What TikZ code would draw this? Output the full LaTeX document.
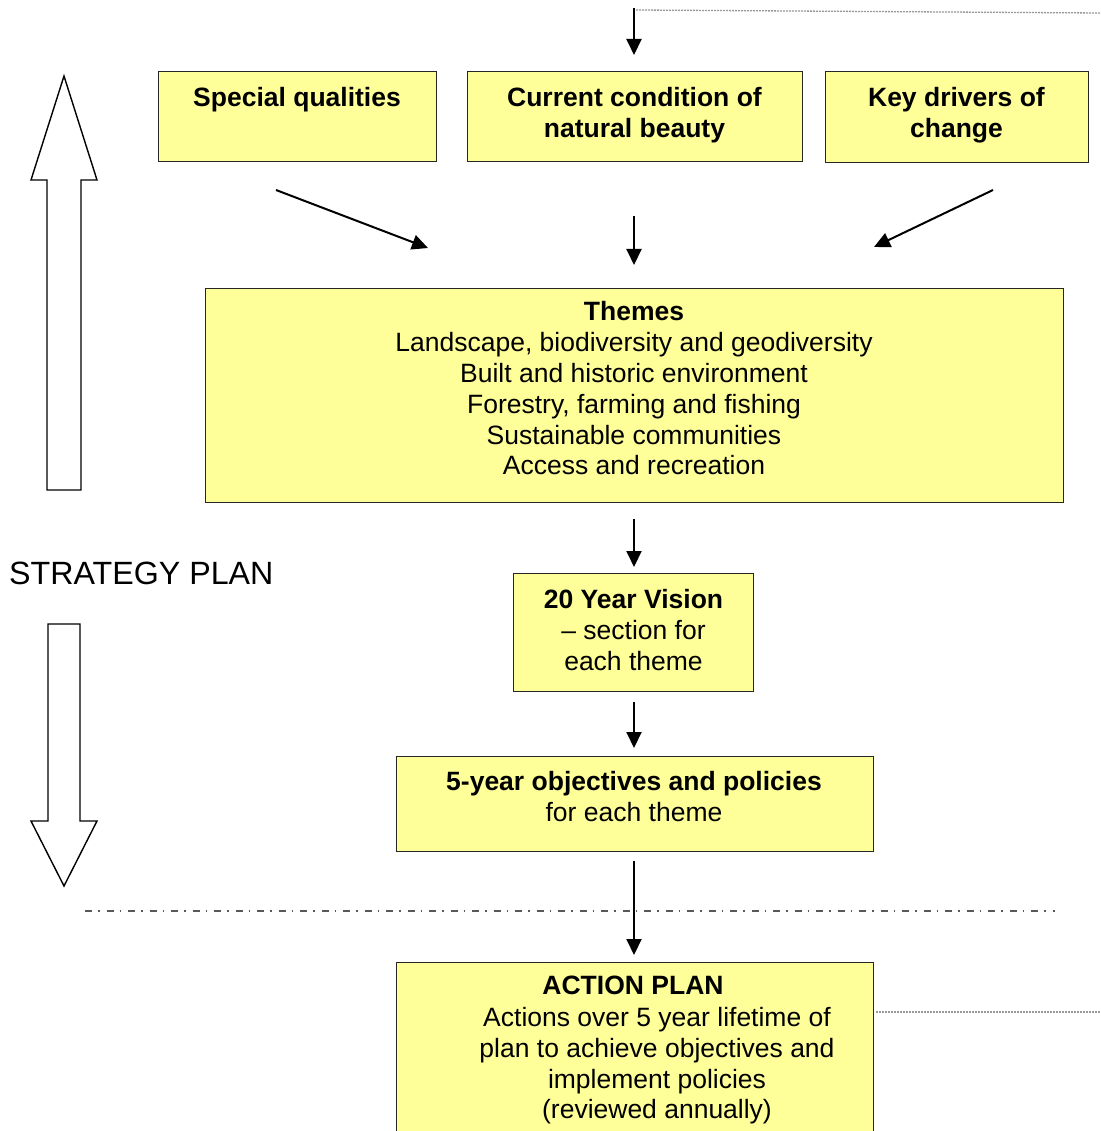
\documentclass[tikz,border=0pt]{standalone}
\usepackage{fontspec}
\setmainfont{Liberation Sans}
\usetikzlibrary{arrows.meta,calc}
\definecolor{boxfill}{HTML}{FFFF99}
\definecolor{dotgray}{HTML}{999999}
\begin{document}
\begin{tikzpicture}[x=1pt,y=-1pt,
  box/.style={draw=black!85, line width=1.3pt, fill=boxfill, inner sep=0pt, rectangle, anchor=north west},
  txt/.style={font=\fontsize{26.5}{30.8}\selectfont, align=center, inner sep=0pt, anchor=north},
  flow/.style={line width=2pt, -{Triangle[length=16pt,width=15pt]}},
  hollow/.style={draw=black, line width=1.4pt, fill=white, line join=miter},
  dotline/.style={draw=dotgray, line width=1.3pt, dash pattern=on 2pt off 1pt},
  dashdotline/.style={draw=black!65, line width=1.5pt, dash pattern=on 7pt off 6pt on 1.5pt off 7pt}]
\clip (0,0) rectangle (1100,1131);
\fill[white] (0,0) rectangle (1100,1131);

% boxes
\node[box, minimum width=278pt, minimum height=90pt] (sq) at (158,71) {};
\node[box, minimum width=335pt, minimum height=90pt] (cc) at (467,71) {};
\node[box, minimum width=263pt, minimum height=91pt] (kd) at (825,71) {};
\node[box, minimum width=858pt, minimum height=214pt] (th) at (205,288) {};
\node[box, minimum width=240pt, minimum height=118pt] (vi) at (513,573) {};
\node[box, minimum width=477pt, minimum height=95pt] (ob) at (396,756) {};
\node[box, minimum width=477pt, minimum height=200pt] (ap) at (396,962) {};

% texts
\node[txt] (sqt) at (297,87) {\textbf{Special qualities}};
\node[txt] (cct) at (634.5,87) {\textbf{Current condition of}\\\textbf{natural beauty}};
\node[txt] (kdt) at (956.5,87) {\textbf{Key drivers of}\\\textbf{change}};
\node[txt] (tht) at (634,301.5) {\textbf{Themes}\\Landscape, biodiversity and geodiversity\\Built and historic environment\\Forestry, farming and fishing\\Sustainable communities\\Access and recreation};
\node[txt] (vit) at (633.5,589) {\textbf{20 Year Vision}\\– section for\\each theme};
\node[txt] (obt) at (634,771) {\textbf{5-year objectives and policies}\\for each theme};
\node[txt] (apt) at (633,976) {\textbf{ACTION PLAN}};
\node[txt] (apb) at (657,1007) {Actions over 5 year lifetime of\\plan to achieve objectives and\\implement policies\\(reviewed annually)};
\node[font=\fontsize{32.2}{36}\selectfont, inner sep=0pt, anchor=base west] (sp) at (9,584.5) {STRATEGY PLAN};

% connector end points
\coordinate (top0) at (634,8);
\coordinate (top1) at (634,55);
\coordinate (d1s) at (276,190);
\coordinate (d1e) at (428,248);
\coordinate (d3s) at (993,190);
\coordinate (d3e) at (874,247);
\coordinate (fbtop) at (1100,13);
\coordinate (fbbot) at (1100,1012);

% dotted feedback lines
\draw[dotline] (636,10) -- (fbtop);
\draw[dotline] ($(ap.east |- fbbot)+(2,0)$) -- (fbbot);

% arrows
\draw[flow] (top0) -- (top1);
\draw[flow] (d1s) -- (d1e);
\draw[flow] ($(cc.south -| top0)+(0,54)$) -- ($(th.north -| top0)+(0,-23)$);
\draw[flow] (d3s) -- (d3e);
\draw[flow] ($(th.south -| top0)+(0,16)$) -- ($(vi.north -| top0)+(0,-6)$);
\draw[flow] ($(vi.south -| top0)+(0,10)$) -- ($(ob.north -| top0)+(0,-8)$);
\draw[flow] ($(ob.south -| top0)+(0,9)$) -- ($(ap.north -| top0)+(0,-7)$);

% dash-dot separator
\draw[dashdotline] (85,911) -- (1055,911);

% big hollow arrows
\draw[hollow] (64,76) -- (97,180) -- (81,180) -- (81,490) -- (47,490) -- (47,180) -- (31,180) -- cycle;
\draw[hollow] (48,624) -- (80,624) -- (80,821) -- (97,821) -- (64,886) -- (31,821) -- (48,821) -- cycle;
\end{tikzpicture}
\end{document}
